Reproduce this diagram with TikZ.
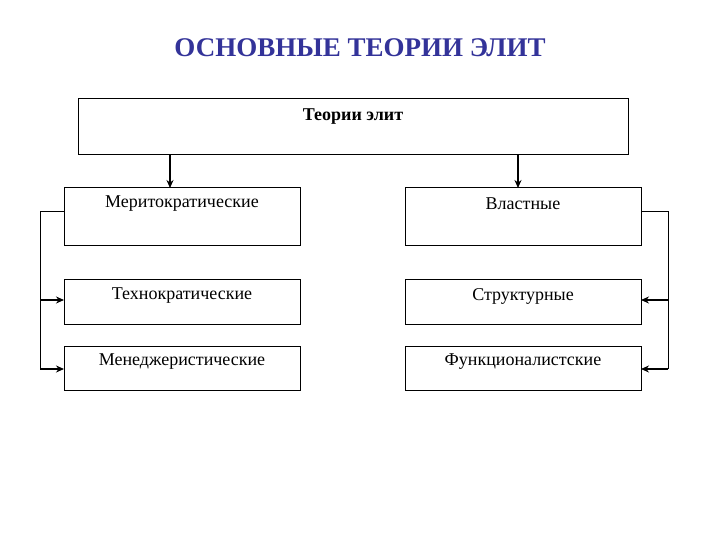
\documentclass[tikz,border=0pt]{standalone}
\usepackage{fontspec}
\setmainfont{Liberation Serif}
\usetikzlibrary{arrows.meta}
\definecolor{ttl}{HTML}{333399}
\begin{document}
\begin{tikzpicture}[x=1pt,y=-1pt,
 box/.style={draw,line width=1pt,inner sep=0pt},
 lab/.style={font=\fontsize{18}{20}\selectfont},
 arr/.style={-{Stealth[length=8pt,width=7pt]},line width=1.2pt}]
\useasboundingbox (0,0) rectangle (720,540);
\node[font=\fontsize{27}{30}\selectfont\bfseries,text=ttl] (title) at (360,48) {ОСНОВНЫЕ ТЕОРИИ ЭЛИТ};
\draw[box] (78,99) rectangle (628,155);
\node[font=\fontsize{18}{20}\selectfont\bfseries] (tt) at (353,117) {Теории элит};
\draw[box] (64,188) rectangle (300,245); \node[lab] (l1) at (182,204) {Меритократические};
\draw[box] (64,279) rectangle (300,324); \node[lab] (l2) at (182,296) {Технократические};
\draw[box] (64,346) rectangle (300,390); \node[lab] (l3) at (182,362) {Менеджеристические};
\draw[box] (405,188) rectangle (641,245); \node[lab] (r1) at (523,204) {Властные};
\draw[box] (405,279) rectangle (641,324); \node[lab] (r2) at (523,296) {Структурные};
\draw[box] (405,346) rectangle (641,390); \node[lab] (r3) at (523,362) {Функционалистские};
\coordinate (a1) at (170,155); \coordinate (a2) at (170,188);
\coordinate (b1) at (518,155); \coordinate (b2) at (518,188);
\draw[arr] (a1) -- (a2);
\draw[arr] (b1) -- (b2);
\draw[line width=1pt] (64,212) -- (40,212) -- (40,369);
\draw[arr] (40,300) -- (64,300);
\draw[arr] (40,369) -- (64,369);
\draw[line width=1pt] (641,212) -- (668,212) -- (668,369);
\draw[arr] (668,300) -- (641,300);
\draw[arr] (668,369) -- (641,369);
\end{tikzpicture}
\end{document}
